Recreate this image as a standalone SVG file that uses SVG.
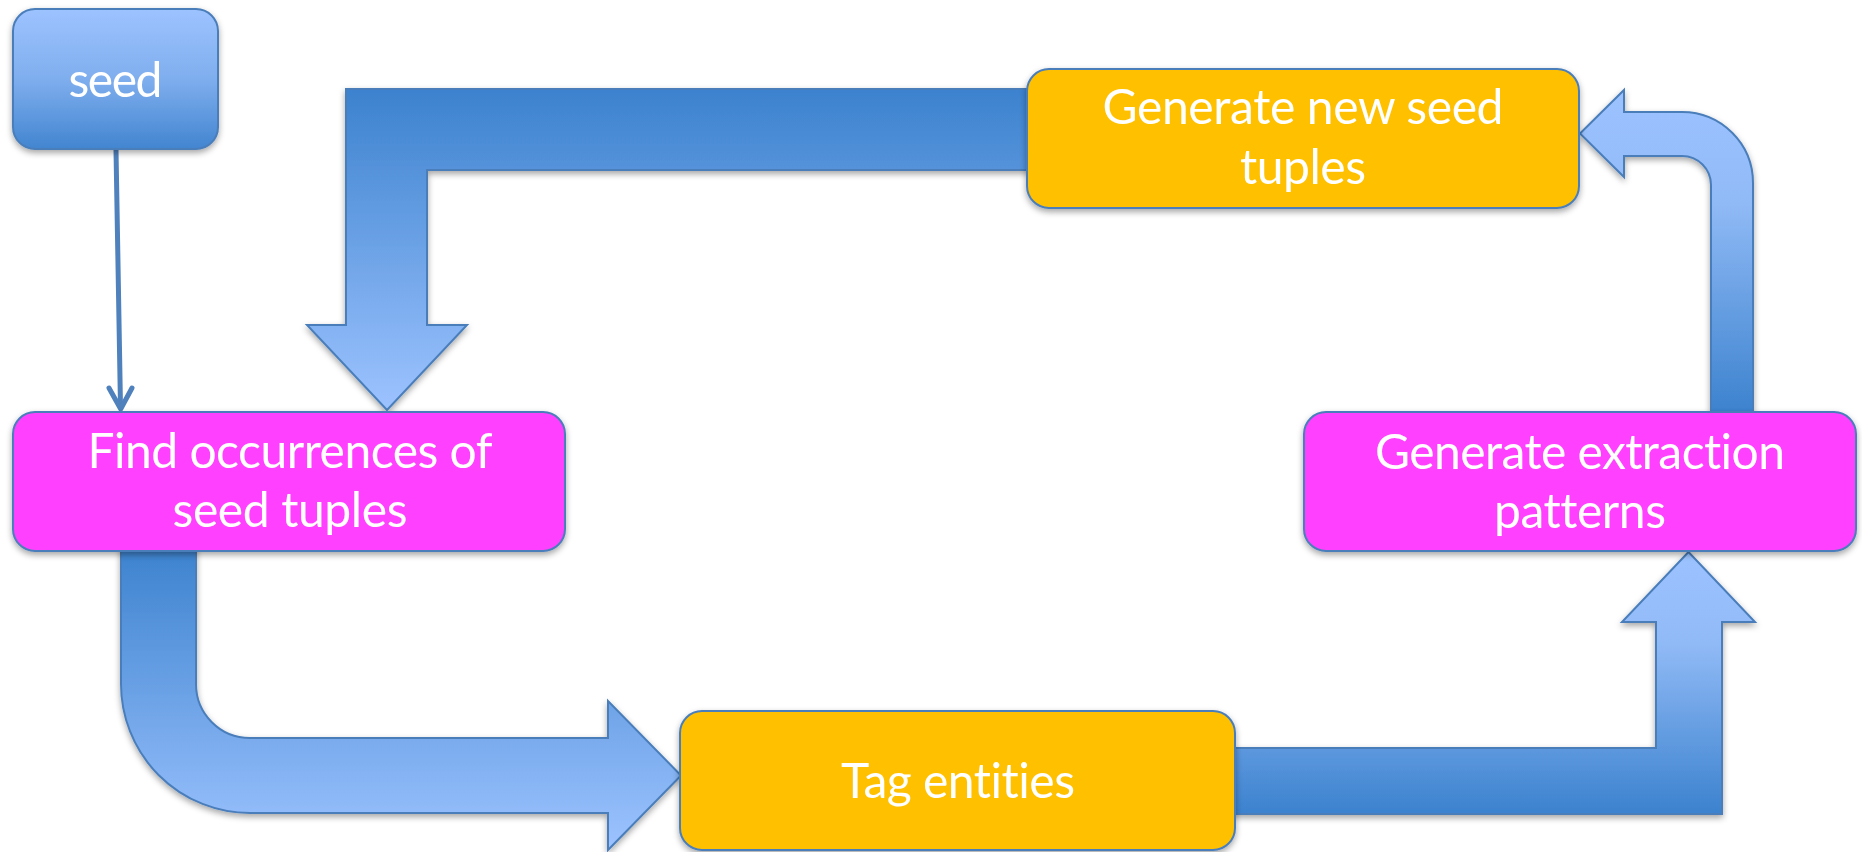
<svg xmlns="http://www.w3.org/2000/svg" width="1862" height="852" viewBox="0 0 1862 852">
  <style>
    .box { stroke: #4A7EBB; stroke-width: 2; }
    .magenta { fill: #FF40FF; }
    .orange { fill: #FFC000; }
    .arrow { stroke: #4A7EBB; stroke-width: 2; stroke-linejoin: miter; }
    .label { font-family: Lato, "Open Sans", "Liberation Sans", sans-serif; font-size: 48px; fill: #FFFFFF; text-anchor: middle; font-variant-ligatures: none; font-feature-settings: "liga" 0, "clig" 0; }
    .link { fill: none; stroke: #4F81BD; stroke-width: 5; stroke-linecap: round; stroke-linejoin: round; }
  </style>
  <defs>
    <linearGradient id="gDown" x1="0" y1="0" x2="0" y2="1">
      <stop offset="0" stop-color="#3C82CE"/>
      <stop offset="1" stop-color="#9DC3FF"/>
    </linearGradient>
    <linearGradient id="gUp" x1="0" y1="0" x2="0" y2="1">
      <stop offset="0" stop-color="#9DC3FF"/>
      <stop offset="0.35" stop-color="#90BAF6"/>
      <stop offset="1" stop-color="#3C82CE"/>
    </linearGradient>
    <linearGradient id="gSeed" x1="0" y1="0" x2="0" y2="1">
      <stop offset="0" stop-color="#9DC3FF"/>
      <stop offset="0.5" stop-color="#7FAEEE"/>
      <stop offset="1" stop-color="#4285D0"/>
    </linearGradient>
    <filter id="shadow" x="-10%" y="-10%" width="120%" height="130%">
      <feDropShadow dx="0" dy="3" stdDeviation="3" flood-color="#000000" flood-opacity="0.35"/>
    </filter>
  </defs>

  <!-- block arrows and the seed link -->
  <g id="connectors">
    <!-- new seed tuples back to finding occurrences -->
    <path class="arrow" fill="url(#gDown)" filter="url(#shadow)"
          d="M1060,89 L346,89 L346,325 L307,325 L387,410 L467,325 L427,325 L427,170 L1060,170 Z"/>
    <!-- occurrences to tagging -->
    <path class="arrow" fill="url(#gDown)" filter="url(#shadow)"
          d="M121,545 L121,684 A129,129 0 0 0 250,813 L608,813 L608,850 L681,775.5 L608,701 L608,738 L250,738 A54,54 0 0 1 196,684 L196,545 Z"/>
    <!-- tagging to pattern generation -->
    <path class="arrow" fill="url(#gUp)" filter="url(#shadow)"
          d="M1220,748 L1656,748 L1656,622 L1622,622 L1688.5,552 L1755,622 L1722,622 L1722,814 L1220,814 Z"/>
    <!-- patterns to new seed tuples -->
    <path class="arrow" fill="url(#gUp)" filter="url(#shadow)"
          d="M1711,414 L1711,185 A29,29 0 0 0 1682,156 L1624,156 L1624,177 L1580,133.5 L1624,90 L1624,112 L1682,112 A71,71 0 0 1 1753,183 L1753,414 Z"/>
    <!-- seed into the first step -->
    <line class="link" x1="116" y1="150" x2="120.5" y2="407"/>
    <polyline class="link" points="109,388 120.7,409 132,388"/>
  </g>

  <g id="node-seed" filter="url(#shadow)">
    <rect class="box" x="13" y="9" width="205" height="140" rx="22" fill="url(#gSeed)"/>
    <text class="label" x="115.5" y="97" textLength="94">seed</text>
  </g>

  <g id="node-find" filter="url(#shadow)">
    <rect class="box magenta" x="13" y="412" width="552" height="139" rx="22"/>
    <text class="label" x="290" y="468" textLength="405">Find occurrences of</text>
    <text class="label" x="290" y="527" textLength="235">seed tuples</text>
  </g>

  <g id="node-tag" filter="url(#shadow)">
    <rect class="box orange" x="680" y="711" width="555" height="139" rx="22"/>
    <text class="label" x="958" y="798" textLength="234">Tag entities</text>
  </g>

  <g id="node-patterns" filter="url(#shadow)">
    <rect class="box magenta" x="1304" y="412" width="552" height="139" rx="22"/>
    <text class="label" x="1580" y="469" textLength="410">Generate extraction</text>
    <text class="label" x="1580" y="528" textLength="172">patterns</text>
  </g>

  <g id="node-newseed" filter="url(#shadow)">
    <rect class="box orange" x="1027" y="69" width="552" height="139" rx="22"/>
    <text class="label" x="1303" y="124" textLength="401">Generate new seed</text>
    <text class="label" x="1303" y="184" textLength="126">tuples</text>
  </g>
</svg>
